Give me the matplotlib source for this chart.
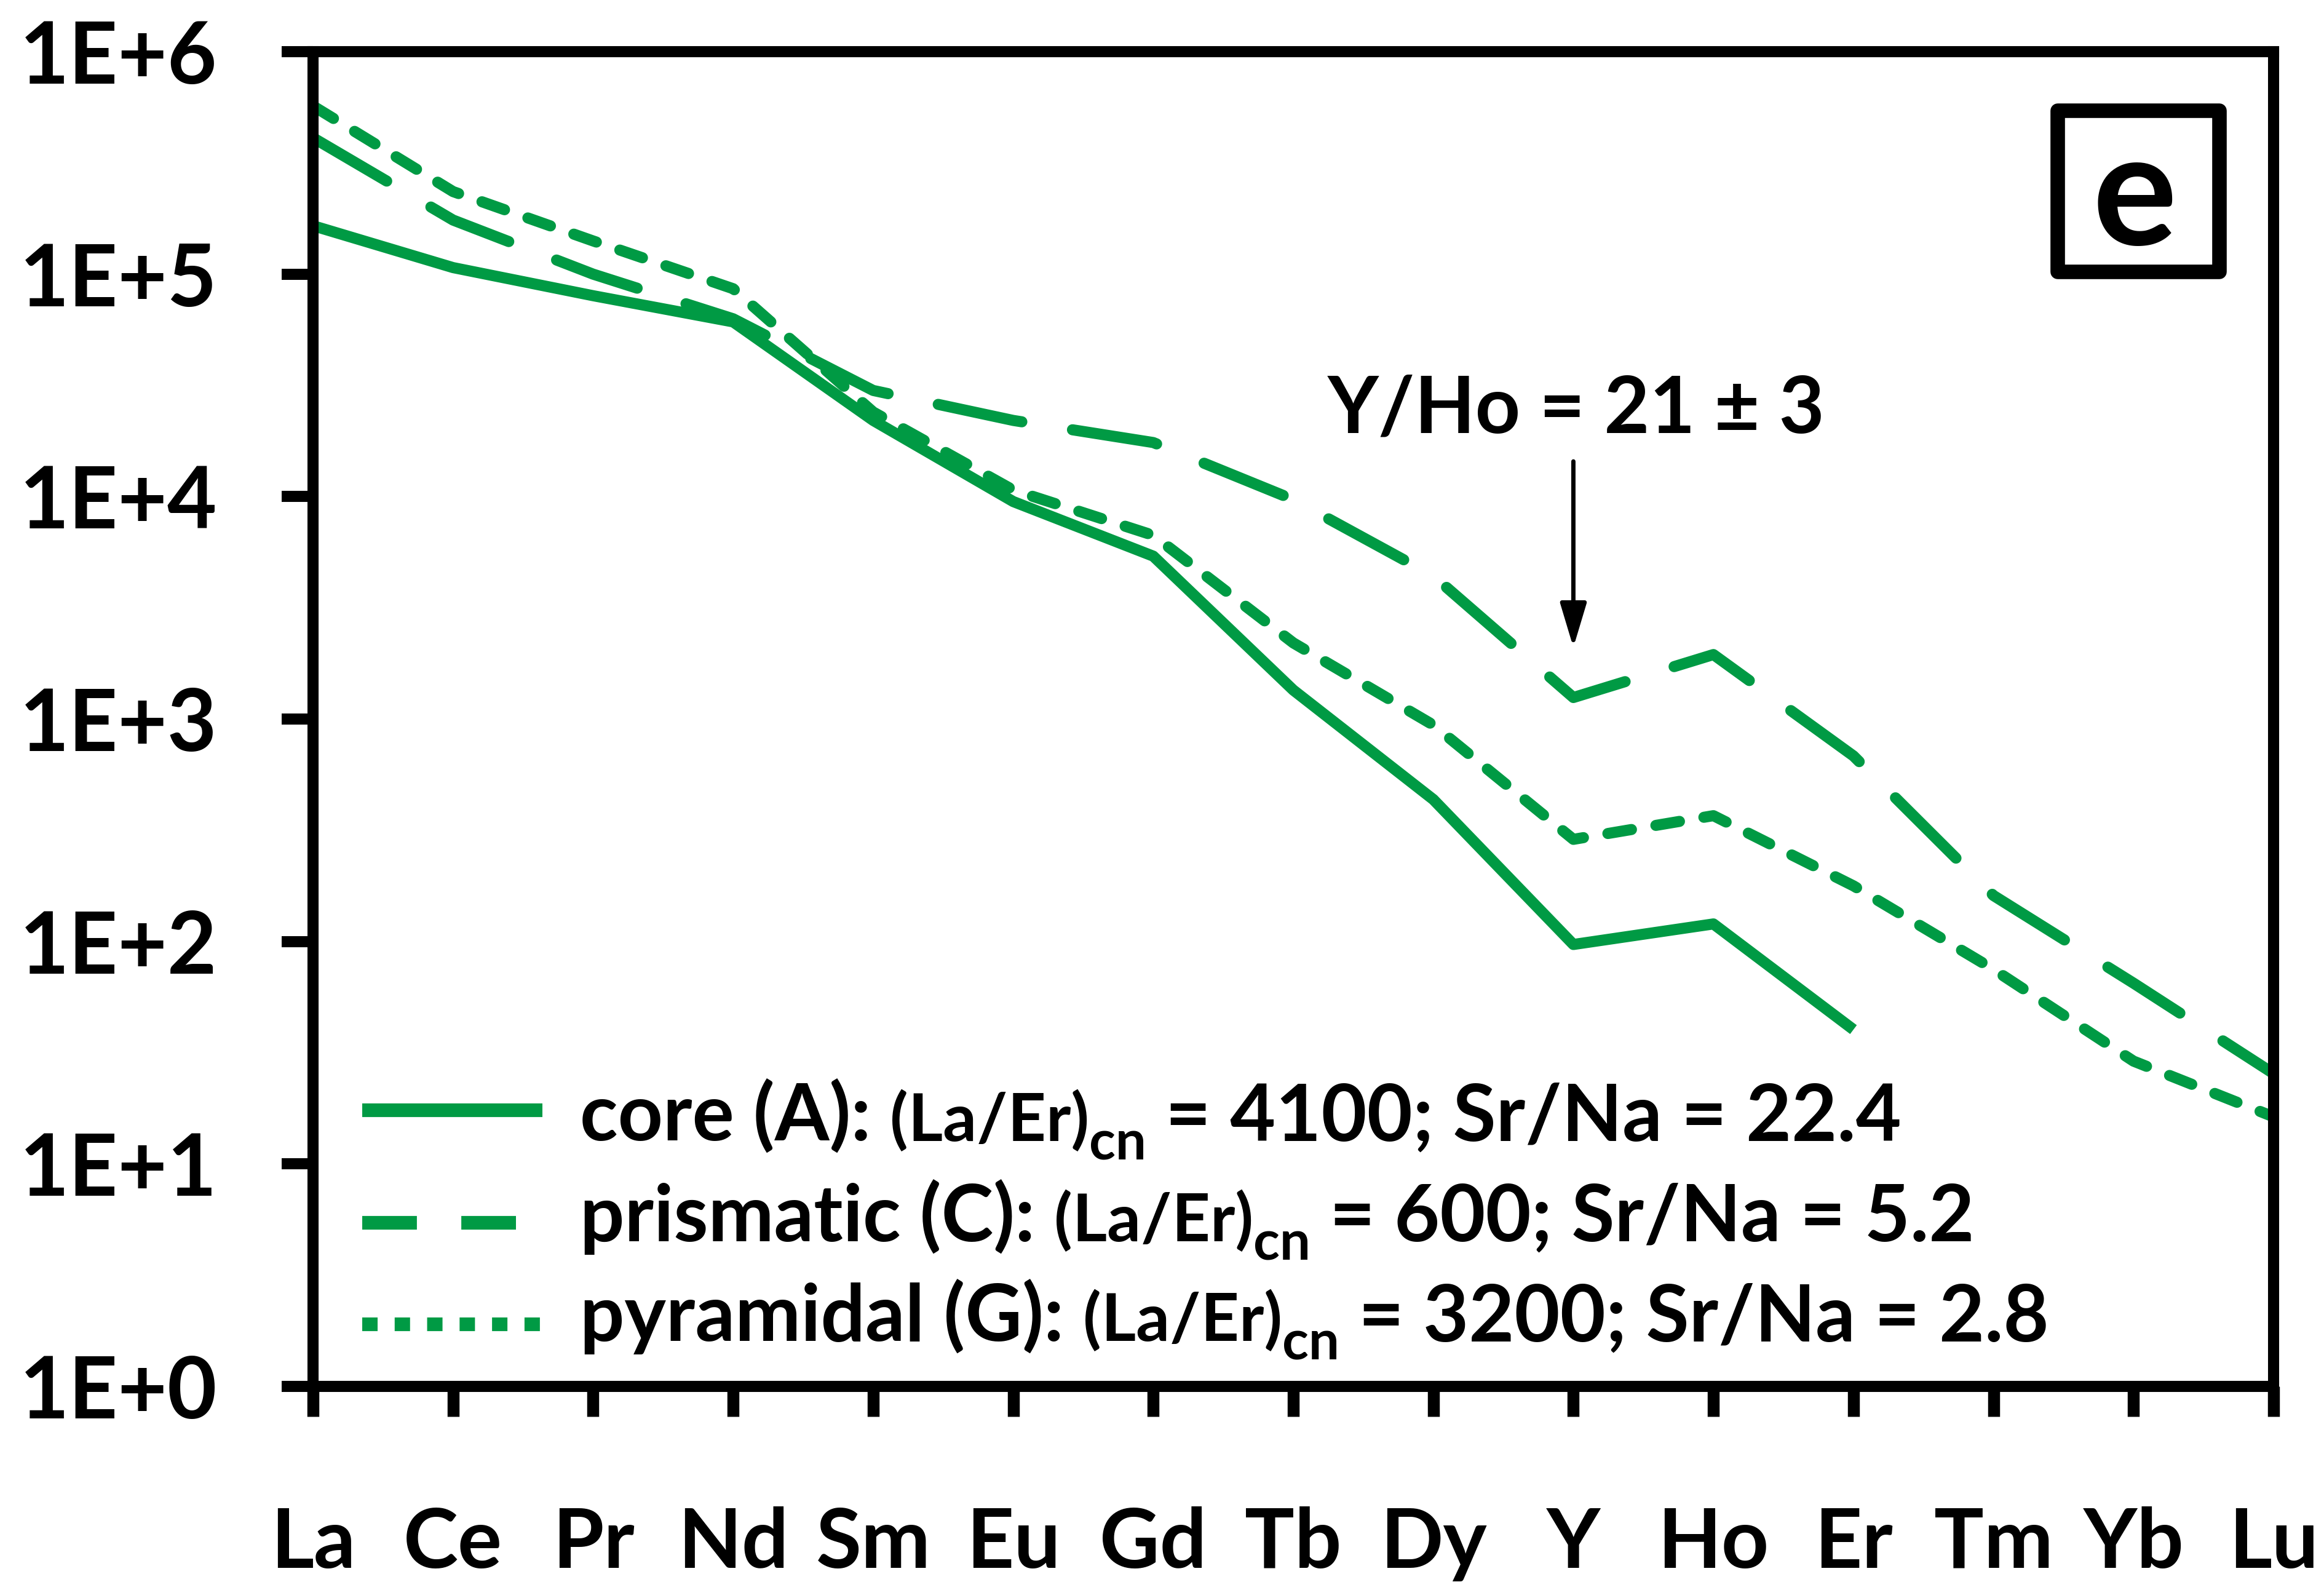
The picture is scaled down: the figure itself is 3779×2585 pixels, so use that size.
import matplotlib
matplotlib.use("Agg")
import matplotlib.pyplot as plt
from matplotlib.lines import Line2D
from matplotlib.patches import Rectangle
from matplotlib import transforms

plt.rcParams['font.family'] = ['Lato', 'DejaVu Sans']
plt.rcParams['font.weight'] = 'bold'
plt.rcParams['lines.scale_dashes'] = False

# chondrite-normalised REE + Y patterns
elements = ["La", "Ce", "Pr", "Nd", "Sm", "Eu", "Gd", "Tb", "Dy", "Y", "Ho", "Er", "Tm", "Yb", "Lu"]
core_A = [1.65e5, 1.07e5, 8.0e4, 6.1e4, 2.2e4, 9.5e3, 5.4e3, 1.35e3, 435, 97, 120, 40.2]
prismatic_C = [4.1e5, 1.75e5, 1.0e5, 6.3e4, 3.0e4, 2.2e4, 1.75e4, 9.7e3, 4.4e3, 1.25e3, 1.95e3, 683, 161, 65, 25.5]
pyramidal_G = [5.7e5, 2.35e5, 1.41e5, 8.6e4, 2.4e4, 1.07e4, 6.7e3, 2.2e3, 940, 288, 368, 178, 75, 29, 16.3]

ytick_vals = [1, 10, 100, 1e3, 1e4, 1e5, 1e6]
ytick_labels = ["1E+0", "1E+1", "1E+2", "1E+3", "1E+4", "1E+5", "1E+6"]

green = '#009A44'

fig = plt.figure(figsize=(37.79, 25.85), dpi=100)
ax = fig.add_axes([0.1347, 0.1280, 0.9783 - 0.1347, 0.9675 - 0.1280])

x = list(range(len(elements)))
ax.plot(x[:len(core_A)], core_A, color=green, lw=13, solid_capstyle='butt', solid_joinstyle='round')
ax.plot(x, prismatic_C, color=green, lw=13, dashes=(100, 60), dash_capstyle='round')
ax.plot(x, pyramidal_G, color=green, lw=13, dashes=(28, 29), dash_capstyle='round')

ax.set_yscale('log')
ax.set_ylim(1, 1e6)
ax.set_xlim(0, 14)
ax.set_yticks(ytick_vals)
ax.set_yticklabels(ytick_labels)
ax.minorticks_off()
ax.set_xticks(x)
ax.set_xticklabels(elements)

for sp in ax.spines.values():
    sp.set_linewidth(13)
ax.tick_params(axis='y', direction='out', length=37, width=13, pad=75, labelsize=100)
ax.tick_params(axis='x', direction='out', length=35, width=14, pad=105, labelsize=97)

# annotation for the Y/Ho ratio
ax.annotate("", xy=(9, 2.1e3), xytext=(9, 1.44e4),
            arrowprops=dict(arrowstyle='-|>,head_length=0.4,head_width=0.12', color='black',
                            lw=5, mutation_scale=110, shrinkA=0, shrinkB=0))
ax.text(9.02, 1.94e4, "Y/Ho = 21 \u00b1 3", ha='center', va='baseline', fontsize=92, fontweight='bold')

# panel letter
ax.add_patch(Rectangle((0.890, 0.835), 0.0825, 0.1207, transform=ax.transAxes,
                       fill=False, lw=17, edgecolor='black', joinstyle='round'))
ax.text(0.929, 0.8553, "e", transform=ax.transAxes, ha='center', va='baseline',
        fontsize=185, fontweight='bold')

# legend, built piece by piece so the (La/Er)cn part can be smaller
rows = [
    (0.2069, 0.1839, dict(linestyle='-', solid_capstyle='butt'),
     "core (A): ", " = 4100; Sr/Na = 22.4"),
    (0.1226, 0.1088, dict(dashes=(64, 52), dash_capstyle='butt'),
     "prismatic (C): ", " = 600; Sr/Na = 5.2"),
    (0.0465, 0.0341, dict(dashes=(18, 20), dash_capstyle='butt'),
     "pyramidal (G): ", " = 3200; Sr/Na = 2.8"),
]
renderer = fig.canvas.get_renderer()
axw = ax.bbox.width
for key_y, base_y, style, head, tail in rows:
    ax.add_line(Line2D([0.0251, 0.117], [key_y, key_y], transform=ax.transAxes,
                       color=green, lw=16, **style))
    xpos = 0.136
    pieces = [(head, 92, 0), ("(La/Er)", 78, 0), ("cn", 64, -22), (tail, 92, 0)]
    for s, size, dy in pieces:
        tr = transforms.offset_copy(ax.transAxes, fig=fig, y=dy, units='points')
        t = ax.text(xpos, base_y, s, transform=tr, fontsize=size, fontweight='bold',
                    va='baseline', ha='left')
        xpos += t.get_window_extent(renderer).width / axw

fig.savefig("out.png", dpi=100)
